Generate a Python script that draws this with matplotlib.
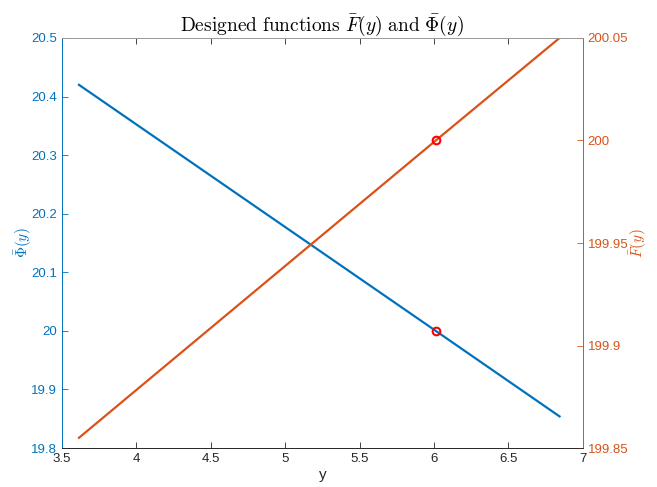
import matplotlib.pyplot as plt

# designed functions sampled along y
y_vals = [3.614, 6.012, 6.844]
phi_bar = [20.42, 20.0, 19.854]
f_bar = [199.855, 200.0, 200.05]

# operating point
y_star = [6.012]
phi_star = [20.0]
f_star = [200.0]

blue = (0.0, 0.447, 0.741)
orange = (0.85, 0.325, 0.098)

plt.rcParams['font.family'] = ['Liberation Sans', 'DejaVu Sans']
plt.rcParams['mathtext.fontset'] = 'cm'


def main():
    fig = plt.figure(figsize=(6.57, 4.87), dpi=100)
    ax = fig.add_axes([0.0944, 0.080, 0.7926, 0.842])
    ax2 = ax.twinx()

    ax.plot(y_vals, phi_bar, color=blue, lw=1.6)
    ax.plot(y_star, phi_star, 'o', mfc='none', mec='red', mew=1.5, ms=5.5)
    ax2.plot(y_vals, f_bar, color=orange, lw=1.6)
    ax2.plot(y_star, f_star, 'o', mfc='none', mec='red', mew=1.5, ms=5.5)

    ax.set_xlim(3.5, 7)
    ax.set_ylim(19.8, 20.5)
    ax2.set_ylim(199.85, 200.05)
    ax.set_xticks([3.5, 4, 4.5, 5, 5.5, 6, 6.5, 7])
    ax.set_xticklabels(['3.5', '4', '4.5', '5', '5.5', '6', '6.5', '7'])
    ax.set_yticks([19.8, 19.9, 20, 20.1, 20.2, 20.3, 20.4, 20.5])
    ax.set_yticklabels(['19.8', '19.9', '20', '20.1', '20.2', '20.3', '20.4', '20.5'])
    ax2.set_yticks([199.85, 199.9, 199.95, 200, 200.05])
    ax2.set_yticklabels(['199.85', '199.9', '199.95', '200', '200.05'])

    dark = (0.15, 0.15, 0.15)
    ax.tick_params(axis='x', direction='in', length=4, top=True, colors=dark,
                   labelsize=9.5, width=0.6)
    ax.tick_params(axis='y', direction='in', length=4, colors=blue,
                   labelsize=9.5, width=0.6)
    ax2.tick_params(axis='y', direction='in', length=4, colors=orange,
                    labelsize=9.5, width=0.6)

    for a in (ax, ax2):
        a.spines['top'].set_color((0.6, 0.6, 0.6))
        a.spines['bottom'].set_color(dark)
        a.spines['left'].set_color(blue)
        a.spines['right'].set_color(orange)
        for s in a.spines.values():
            s.set_linewidth(0.6)

    ax.set_xlabel('y', fontsize=11, color=dark, labelpad=2)
    ax.set_ylabel(r'$\bar{\Phi}(y)$', fontsize=11, color=blue)
    ax2.set_ylabel(r'$\bar{F}(y)$', fontsize=11, color=orange)
    ax.yaxis.set_label_coords(-0.054, 0.5)
    ax2.yaxis.set_label_coords(1.086, 0.5)
    ax.set_title(r'$\mathrm{Designed\ functions\ }\bar{F}(y)\mathrm{\ and\ }\bar{\Phi}(y)$',
                 fontsize=14, pad=5)

    fig.savefig('out.png', dpi=100)


if __name__ == '__main__':
    main()
